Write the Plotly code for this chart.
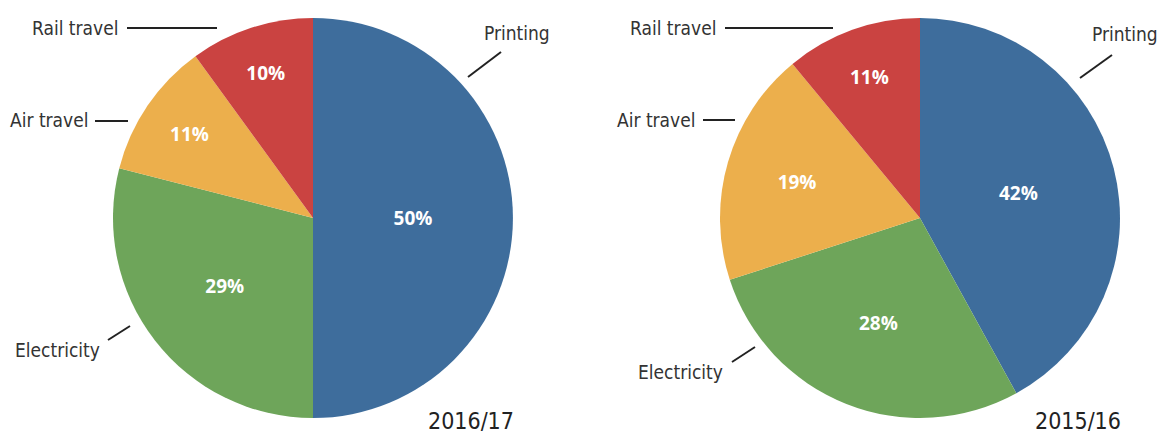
import plotly.graph_objects as go

W, H = 1163, 435

categories = ["Printing", "Electricity", "Air travel", "Rail travel"]
values_2016_17 = [50, 29, 11, 10]
values_2015_16 = [42, 28, 19, 11]
years = ["2016/17", "2015/16"]
colors = ["#3E6D9C", "#6EA55A", "#ECAF4C", "#CA4341"]

LABEL_FONT = "DejaVu Sans Condensed, Open Sans"

def px(x):
    return x / W

def py(y):
    return 1 - y / H

fig = go.Figure()

domains = [
    dict(x=[px(113), px(513)], y=[py(418), py(18)]),
    dict(x=[px(720), px(1120)], y=[py(418), py(18)]),
]

for vals, dom, name in zip([values_2016_17, values_2015_16], domains, years):
    fig.add_trace(go.Pie(
        labels=categories,
        values=vals,
        name=name,
        domain=dom,
        sort=False,
        direction="clockwise",
        rotation=0,
        marker=dict(colors=colors, line=dict(width=0)),
        texttemplate="%{value}%",
        textposition="inside",
        insidetextorientation="horizontal",
        textfont=dict(family="Open Sans", size=19, color="white", weight="bold"),
        hoverinfo="label+value",
        showlegend=False,
    ))

# label annotation layout (pixel positions): text anchor x, y, xanchor; leader line
label_layout = [
    # left pie
    ("Rail travel", 120, 28, "right", (127, 28, 217, 28)),
    ("Printing", 482, 33, "left", (468, 77, 501, 52)),
    ("Air travel", 90, 120, "right", (95, 121, 128, 121)),
    ("Electricity", 102, 350, "right", (108, 340, 130, 326)),
    # right pie
    ("Rail travel", 718, 28, "right", (725, 28, 833, 28)),
    ("Printing", 1090, 34, "left", (1080, 78, 1112, 55)),
    ("Air travel", 697, 120, "right", (703, 120, 735, 120)),
    ("Electricity", 725, 372, "right", (732, 362, 755, 347)),
]

annotations = []
shapes = []
for text, x, y, xa, ln in label_layout:
    annotations.append(dict(
        text=text, x=px(x), y=py(y), xref="paper", yref="paper",
        xanchor=xa, yanchor="middle", showarrow=False,
        font=dict(family=LABEL_FONT, size=19, color="#333333"),
    ))
    x0, y0, x1, y1 = ln
    shapes.append(dict(
        type="line", xref="paper", yref="paper",
        x0=px(x0), y0=py(y0), x1=px(x1), y1=py(y1),
        line=dict(color="#222222", width=2),
    ))

for name, x in zip(years, [471, 1078]):
    annotations.append(dict(
        text=name, x=px(x), y=py(421), xref="paper", yref="paper",
        xanchor="center", yanchor="middle", showarrow=False,
        font=dict(family=LABEL_FONT, size=23, color="#222222"),
    ))

fig.update_layout(
    width=W, height=H,
    margin=dict(l=0, r=0, t=0, b=0),
    paper_bgcolor="white",
    plot_bgcolor="white",
    annotations=annotations,
    shapes=shapes,
)

fig.write_html(
    "out.html",
    config={"displayModeBar": False},
    post_script="document.body.style.margin='0';document.body.style.overflow='hidden';",
)
